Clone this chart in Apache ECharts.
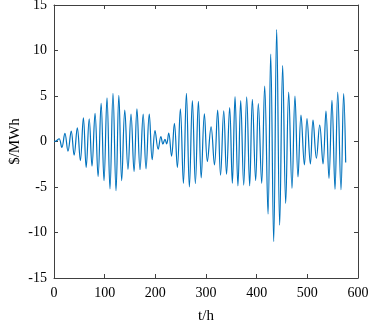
<!DOCTYPE html>
<html>
<head>
<meta charset="utf-8">
<script src="https://cdn.jsdelivr.net/npm/echarts@6/dist/echarts.min.js"></script>
<style>
html,body{margin:0;padding:0;background:#fff;}
#c{width:370px;height:326px;}
</style>
</head>
<body>
<div id="c"></div>
<script>
// Turning points (hours) of the price signal
var hours = [0,4,10,15.5,21.5,27.6,34,39.7,46,52,58,63.5,69.5,75,81,87,93,98.7,104.6,110.5,116.4,122.4,128,133.6,139.7,146,152,158,163.7,169.7,176,181.6,188,193.8,199.4,205.6,211,215,219,222.4,226.4,232,237.6,243.5,249.4,255.4,261.3,267.2,273.1,279,285,290.5,296.8,302.7,310,316.7,323,328.7,335,340.5,346.7,352,357.3,363,368.5,374.4,380.3,386.2,391.5,398,403.3,409.9,415.8,422.4,427.7,433.6,439.5,445.4,451.3,457.3,463.2,469.7,475.6,481.6,487.5,494.2,499.3,506,511.2,517.9,524.4,531,536.8,542.7,548.6,554.6,560,566.4,571.7,575.7];
var price = [0,0.05,0.3,-0.65,0.9,-1.05,1.15,-1.5,1.5,-2.1,2.6,-2.85,2.5,-2.7,3.1,-3.85,4.2,-4.3,4.8,-5.2,5.3,-5.4,5.08,-4.3,3.44,-3.05,3.0,-3.3,3.6,-3.1,3.0,-3.0,3.0,-2.0,1.2,-0.85,0.55,-0.27,0.25,-0.27,0.92,-1.6,2.0,-2.85,3.6,-4.6,5.3,-5.0,4.5,-4.62,4.4,-4.0,3.05,-2.2,1.6,-2.57,3.45,-3.7,3.38,-3.6,3.72,-4.6,4.93,-4.87,4.5,-4.8,4.9,-4.87,4.64,-4.3,4.17,-4.6,6.1,-7.97,9.6,-11.0,12.3,-9.2,8.35,-6.8,5.44,-5.15,5.0,-3.9,2.9,-2.57,2.53,-2.46,2.35,-1.84,1.8,-2.46,3.33,-4.05,4.53,-5.25,5.44,-5.3,5.26,-2.3];
var xTicks = [0,100,200,300,400,500,600];
var yTicks = [-15,-10,-5,0,5,10,15];

var data = hours.map(function(t,i){return [t, price[i]];});
var font = 'Liberation Serif';
var axisColor = '#404040';
function axisBase(extra){
  var o = {
    type:'value',
    axisLine:{show:true,onZero:false,lineStyle:{color:axisColor,width:1}},
    axisTick:{show:true,inside:true,length:4,lineStyle:{color:axisColor,width:1}},
    splitLine:{show:false}
  };
  for (var k in extra) o[k]=extra[k];
  return o;
}
var chart = echarts.init(document.getElementById('c'),null,{renderer:'canvas'});
chart.setOption({
  animation:false,
  backgroundColor:'#fff',
  grid:{left:54,right:12,top:5,bottom:48,containLabel:false,outerBoundsMode:'none'},
  xAxis:[
    axisBase({min:xTicks[0],max:xTicks[xTicks.length-1],interval:100,position:'bottom',
      name:'t/h',nameLocation:'middle',nameGap:31,nameMoveOverlap:false,
      nameTextStyle:{fontFamily:font,fontSize:15,color:'#000'},
      axisLabel:{fontFamily:font,fontSize:14,color:'#000',margin:8}}),
    axisBase({min:xTicks[0],max:xTicks[xTicks.length-1],interval:100,position:'top',
      axisLabel:{show:false}})
  ],
  yAxis:[
    axisBase({min:yTicks[0],max:yTicks[yTicks.length-1],interval:5,position:'left',
      name:'$/MWh',nameLocation:'middle',nameGap:31,nameMoveOverlap:false,
      nameTextStyle:{fontFamily:font,fontSize:15,color:'#000'},
      axisLabel:{fontFamily:font,fontSize:14,color:'#000',margin:7}}),
    axisBase({min:yTicks[0],max:yTicks[yTicks.length-1],interval:5,position:'right',
      axisLabel:{show:false}})
  ],
  series:[{
    type:'line',
    data:data,
    smooth:0.4,
    showSymbol:false,
    lineStyle:{color:'#0072BD',width:1.2},
    xAxisIndex:0,yAxisIndex:0
  }]
});
</script>
</body>
</html>
